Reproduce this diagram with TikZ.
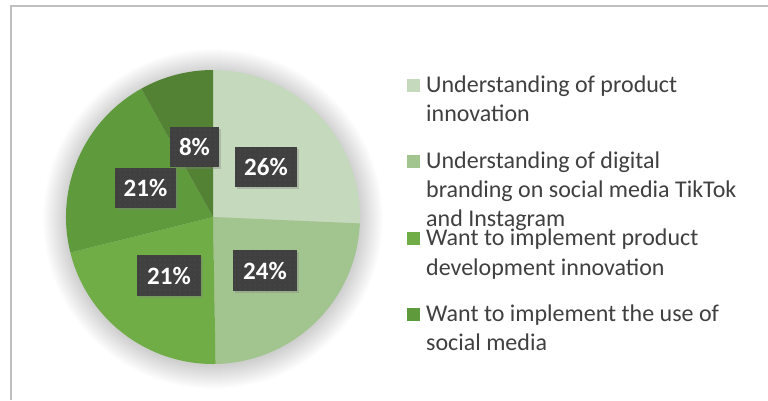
\documentclass[tikz,border=0pt]{standalone}
\usepackage{fontspec}
\setmainfont{Carlito}
\usetikzlibrary{shadows,patterns.meta}
\definecolor{s1}{HTML}{C5D9BC}
\definecolor{s2}{HTML}{A2C590}
\definecolor{s3}{HTML}{70AD47}
\definecolor{s4}{HTML}{5F9B3C}
\definecolor{s5}{HTML}{548235}
\definecolor{lbl}{HTML}{404040}
\definecolor{dotc}{HTML}{535353}
\definecolor{txt}{HTML}{404040}
\definecolor{framec}{HTML}{BFBFBF}
\begin{document}
\begin{tikzpicture}[x=1pt,y=-1pt,
  labelbox/.style={fill=lbl, text=white, inner sep=0pt, minimum height=40pt,
    font=\fontsize{25}{25}\selectfont\bfseries,
    drop shadow={shadow xshift=2pt, shadow yshift=-2pt, opacity=0.35},
    postaction={pattern={Dots[distance=5pt,radius=0.6pt]}, pattern color=dotc}},
  legline/.style={anchor=base west, inner sep=0pt, text=txt, font=\fontsize{24}{29}\selectfont},
  legkey/.style={inner sep=0pt, minimum size=13pt, anchor=south west},
  glowring/.style={fill=black, opacity=0.007}]
\useasboundingbox (0,0) rectangle (768,400);
\fill[white] (0,0) rectangle (768,400);
% frame
\draw[framec, line width=2pt] (11,400) -- (11,6) -- (768,6);
% pie
\begin{scope}[shift={(213,219)}, y=1pt]
  \foreach \i in {0,...,23} {\fill[glowring] (0,0) circle ({147+\i});}
\end{scope}
\begin{scope}[shift={(213,217)}, y=1pt]
  \fill[s1] (0,0) -- (90:147) arc[start angle=90, end angle=-2.5, radius=147] -- cycle;
  \fill[s2] (0,0) -- (-2.5:147) arc[start angle=-2.5, end angle=-89, radius=147] -- cycle;
  \fill[s3] (0,0) -- (-89:147) arc[start angle=-89, end angle=-166, radius=147] -- cycle;
  \fill[s4] (0,0) -- (-166:147) arc[start angle=-166, end angle=-240.8, radius=147] -- cycle;
  \fill[s5] (0,0) -- (119.2:147) arc[start angle=119.2, end angle=90, radius=147] -- cycle;
\end{scope}
% data labels
\node[labelbox, minimum width=62pt] (p26) at (266,167) {26\%};
\node[labelbox, minimum width=49pt] (p8) at (194.5,147) {8\%};
\node[labelbox, minimum width=61pt] (p21a) at (145.5,188) {21\%};
\node[labelbox, minimum width=64pt, minimum height=41pt] (p21b) at (169,275.5) {21\%};
\node[labelbox, minimum width=64pt, minimum height=41pt] (p24) at (265,270.5) {24\%};
% legend
\node[legkey, fill=s1] (k1) at (407,92) {};
\node[legkey, fill=s2] (k2) at (407,168) {};
\node[legkey, fill=s3] (k3) at (407,245) {};
\node[legkey, fill=s4] (k4) at (407,321) {};
\node[legline] (l1a) at (426,92) {Understanding of product};
\node[legline] (l1b) at (426,121) {innovation};
\node[legline] (l2a) at (426,168) {Understanding of digital};
\node[legline] (l2b) at (426,197) {branding on social media TikTok};
\node[legline] (l2c) at (426,226) {and Instagram};
\node[legline] (l3a) at (426,245) {Want to implement product};
\node[legline] (l3b) at (426,275) {development innovation};
\node[legline] (l4a) at (426,321) {Want to implement the use of};
\node[legline] (l4b) at (426,350) {social media};
\end{tikzpicture}
\end{document}
